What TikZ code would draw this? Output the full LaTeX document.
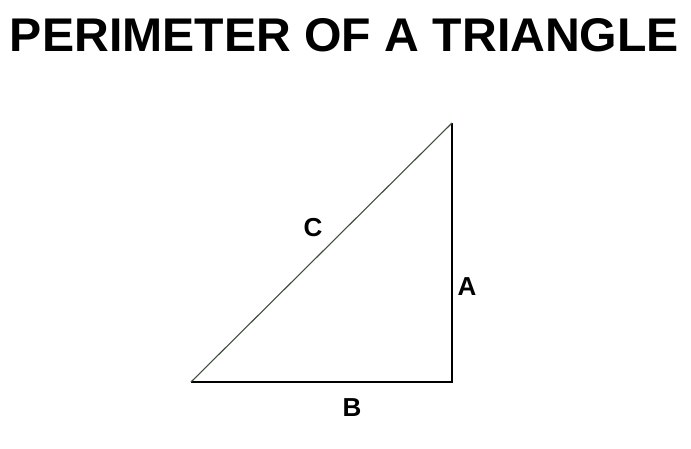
\documentclass[tikz,border=0pt]{standalone}
\usepackage{fontspec}
\usepackage{graphicx}
\setmainfont{Liberation Sans}
\begin{document}
\begin{tikzpicture}[x=1pt,y=-1pt,
  lbl/.style={font=\fontsize{26}{26}\selectfont\bfseries, inner sep=0pt},
  side/.style={line width=1.6pt, black},
  hyp/.style={line width=1.1pt, color=hypc}]
\definecolor{hypc}{HTML}{3C4F3A}
\useasboundingbox[fill=white] (0,0) rectangle (691,448);
\node[inner sep=0pt, anchor=center] (title) at (344.5,35.5) {\resizebox{669pt}{33pt}{\fontsize{46}{46}\selectfont\bfseries PERIMETER OF A TRIANGLE}};
\coordinate (P) at (191,382);
\coordinate (Q) at (452,382);
\coordinate (R) at (452,123);
\draw[side] (P) -- (Q) -- (R);
\draw[hyp] (P) -- (R);
\node[lbl] (C) at (313,228) {C};
\node[lbl] (A) at (467,287) {A};
\node[lbl] (B) at (352,408) {B};
\end{tikzpicture}
\end{document}
